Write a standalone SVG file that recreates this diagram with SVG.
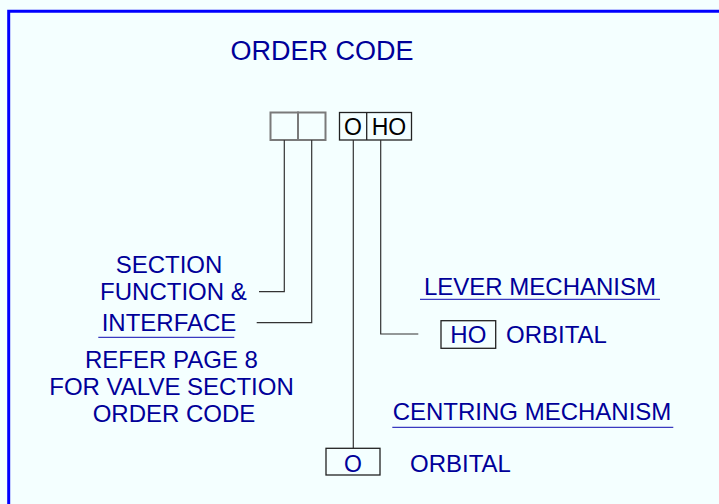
<svg xmlns="http://www.w3.org/2000/svg" width="719" height="504" viewBox="0 0 719 504">
  <style>
    .t { font-family: "Liberation Sans", Arial, sans-serif; fill: #000099; }
    .lbl { font-size: 24px; }
    .code { font-family: "Liberation Sans", Arial, sans-serif; font-size: 23px; fill: #000000; }
    .cell { fill: none; stroke: #7a7a7a; stroke-width: 2; }
    .cellk { fill: none; stroke: #222222; stroke-width: 1.3; }
    .wire { fill: none; stroke: #333333; stroke-width: 1.2; }
    .rule { stroke: #3a3ac0; stroke-width: 1.3; }
  </style>

  <!-- page background and frame -->
  <rect x="0" y="0" width="719" height="504" fill="#F4FFFF"/>
  <path d="M8.7 504 V11.2 H719" fill="none" stroke="#0000FF" stroke-width="3"/>

  <text class="t" x="322" y="60" font-size="27" text-anchor="middle">ORDER CODE</text>

  <!-- code field cells -->
  <g id="section-cells">
    <rect class="cell" x="270.5" y="112.5" width="27.5" height="27.5"/>
    <rect class="cell" x="298" y="112.5" width="27.5" height="27.5"/>
  </g>
  <g id="mechanism-cells">
    <rect class="cellk" x="339.5" y="112.5" width="72" height="27.5"/>
    <line class="cellk" x1="366.7" y1="112.5" x2="366.7" y2="140"/>
    <text class="code" x="353" y="135" text-anchor="middle">O</text>
    <text class="code" x="389" y="135" text-anchor="middle">HO</text>
  </g>

  <!-- connectors -->
  <g id="connectors">
    <polyline class="wire" points="284.3,140 284.3,291.7 259,291.7"/>
    <polyline class="wire" points="311.7,140 311.7,322.7 256.7,322.7"/>
    <polyline class="wire" points="380.7,140 380.7,334 418.3,334"/>
    <line class="wire" x1="353.3" y1="140" x2="353.3" y2="448.3"/>
  </g>

  <!-- section function & interface -->
  <g id="section-note">
    <text class="t lbl" x="169" y="272.7" text-anchor="middle">SECTION</text>
    <text class="t lbl" x="173.4" y="300" text-anchor="middle">FUNCTION &amp;</text>
    <text class="t lbl" x="169" y="330.7" text-anchor="middle">INTERFACE</text>
    <line class="rule" x1="98.3" y1="337.3" x2="234.3" y2="337.3"/>
    <text class="t lbl" x="171.5" y="368.3" text-anchor="middle">REFER PAGE 8</text>
    <text class="t lbl" x="171.5" y="395" text-anchor="middle">FOR VALVE SECTION</text>
    <text class="t lbl" x="174" y="421.7" text-anchor="middle">ORDER CODE</text>
  </g>

  <!-- lever mechanism -->
  <g id="lever">
    <text class="t lbl" x="540" y="294.5" text-anchor="middle">LEVER MECHANISM</text>
    <line class="rule" x1="420" y1="299.3" x2="660" y2="299.3"/>
    <rect class="cellk" x="441" y="320.7" width="54.7" height="27.6"/>
    <text class="t lbl" x="468.3" y="342.7" text-anchor="middle">HO</text>
    <text class="t lbl" x="506" y="342.7">ORBITAL</text>
  </g>

  <!-- centring mechanism -->
  <g id="centring">
    <text class="t lbl" x="532" y="420" text-anchor="middle">CENTRING MECHANISM</text>
    <line class="rule" x1="392.3" y1="427.3" x2="673.3" y2="427.3"/>
    <rect class="cellk" x="326" y="448.3" width="54" height="26.7"/>
    <text class="t" x="353" y="471.5" font-size="23" text-anchor="middle">O</text>
    <text class="t lbl" x="410" y="471.5">ORBITAL</text>
  </g>
</svg>
